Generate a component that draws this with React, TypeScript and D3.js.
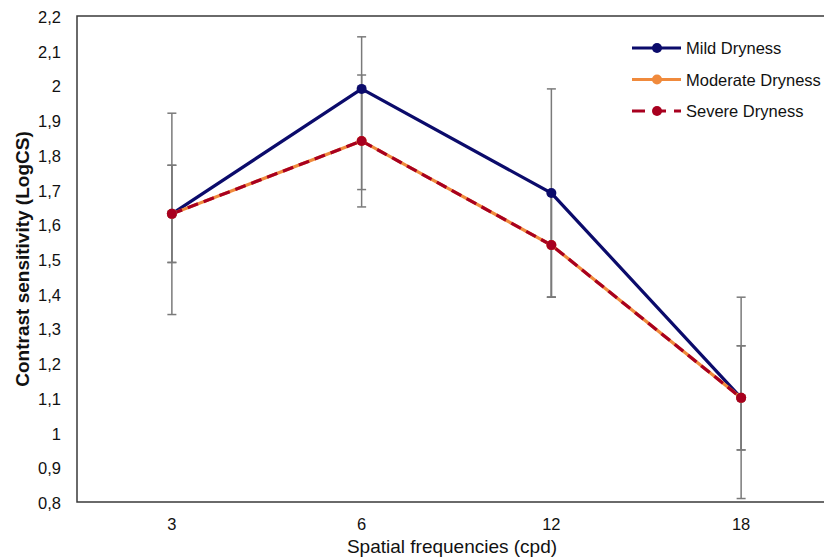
import React from "react";
import * as d3 from "d3";

const categories = ["3", "6", "12", "18"];
const mild = [1.63, 1.99, 1.69, 1.1];
const moderate = [1.63, 1.84, 1.54, 1.1];
const severe = [1.63, 1.84, 1.54, 1.1];
const mildErr = [0.29, 0.15, 0.3, 0.29];
const moderateErr = [0.14, 0.19, 0.15, 0.15];
const severeErr = [0.14, 0.14, 0.15, 0.15];
const yTicks = [0.8, 0.9, 1, 1.1, 1.2, 1.3, 1.4, 1.5, 1.6, 1.7, 1.8, 1.9, 2, 2.1, 2.2];
const seriesNames = ["Mild Dryness", "Moderate Dryness", "Severe Dryness"];

const W = 824;
const H = 559;
const left = 77;
const top = 16;
const bottom = 502;
const rightEdge = 836;

export default function App() {
  const x = d3.scalePoint<string>().domain(categories).range([left, rightEdge]).padding(0.5);
  const y = d3.scaleLinear().domain([0.8, 2.2]).range([bottom, top]);
  const line = d3
    .line<number>()
    .x((_, i) => x(categories[i]) as number)
    .y((d) => y(d));

  const series = [
    { name: seriesNames[0], vals: mild, err: mildErr, color: "#0b0b6b", dash: undefined as string | undefined },
    { name: seriesNames[1], vals: moderate, err: moderateErr, color: "#f08a3c", dash: undefined },
    { name: seriesNames[2], vals: severe, err: severeErr, color: "#a8001f", dash: "11 6" },
  ];

  const font = "'Liberation Sans', Arial, sans-serif";

  return (
    <svg width={W} height={H} style={{ position: "absolute", left: 0, top: 0, background: "#fff" }} fontFamily={font}>
      <rect x={0} y={0} width={W} height={H} fill="#fff" />
      {/* frame */}
      <path d={`M${rightEdge},${top}H${left}V${bottom}H${rightEdge}`} fill="none" stroke="#3a3a3a" strokeWidth={1.5} />
      {/* y tick labels */}
      {yTicks.map((t) => (
        <text key={t} x={61} y={y(t) + 7} textAnchor="end" fontSize={16.5} fill="#111">
          {String(+t.toFixed(1)).replace(".", ",")}
        </text>
      ))}
      {/* x tick labels */}
      {categories.map((c) => (
        <text key={c} x={x(c) as number} y={530} textAnchor="middle" fontSize={16.5} fill="#111">
          {c}
        </text>
      ))}
      {/* axis titles */}
      <text
        transform={`translate(29,${(top + bottom) / 2}) rotate(-90)`}
        textAnchor="middle"
        fontSize={19}
        fontWeight="bold"
        fill="#111"
      >
        Contrast sensitivity (LogCS)
      </text>
      <text x={452} y={553} textAnchor="middle" fontSize={19} fill="#111">
        Spatial frequencies (cpd)
      </text>
      {/* error bars */}
      {series.map((s, si) =>
        s.vals.map((v, i) => {
          const cx = x(categories[i]) as number;
          const y1 = y(v + s.err[i]);
          const y2 = y(v - s.err[i]);
          return (
            <g key={`e${si}-${i}`} stroke="#7a7a7a" strokeWidth={1.5}>
              <line x1={cx} x2={cx} y1={y1} y2={y2} />
              <line x1={cx - 4.5} x2={cx + 4.5} y1={y1} y2={y1} />
              <line x1={cx - 4.5} x2={cx + 4.5} y1={y2} y2={y2} />
            </g>
          );
        })
      )}
      {/* lines */}
      {series.map((s) => (
        <path
          key={s.name}
          d={line(s.vals) as string}
          fill="none"
          stroke={s.color}
          strokeWidth={3.2}
          strokeDasharray={s.dash}
        />
      ))}
      {series.map((s) =>
        s.vals.map((v, i) => (
          <circle key={`${s.name}-${i}`} cx={x(categories[i]) as number} cy={y(v)} r={5} fill={s.color} />
        ))
      )}
      {/* legend */}
      {series.map((s, i) => {
        const ly = 48 + i * 31.5;
        return (
          <g key={`lg${i}`}>
            <line x1={632} x2={681} y1={ly} y2={ly} stroke={s.color} strokeWidth={3.2} strokeDasharray={s.dash ? "13 8" : undefined} />
            <circle cx={657} cy={ly} r={5} fill={s.color} />
            <text x={686} y={ly + 6} fontSize={16.5} fill="#111">
              {s.name}
            </text>
          </g>
        );
      })}
    </svg>
  );
}
